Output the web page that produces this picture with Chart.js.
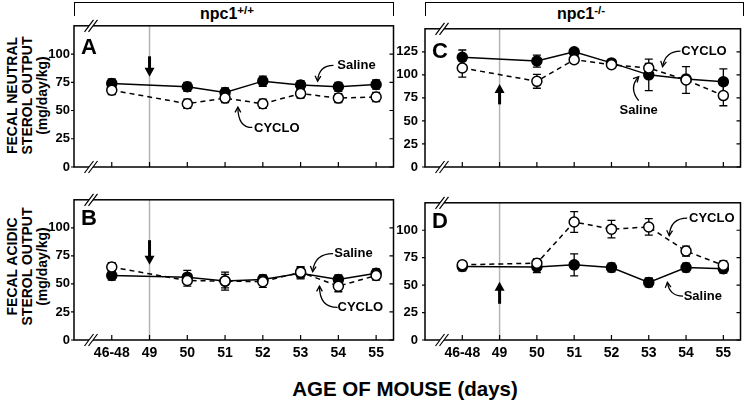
<!DOCTYPE html>
<html>
<head>
<meta charset="utf-8">
<script src="https://cdn.jsdelivr.net/npm/chart.js@4.4.0/dist/chart.umd.min.js"></script>
<style>
  body { margin: 0; background: #fff; width: 747px; height: 403px; overflow: hidden; position: relative;
         font-family: "Liberation Sans", Arial, sans-serif; font-weight: bold; color: #000; }
  canvas { position: absolute; }
  .bracket { position: absolute; box-sizing: border-box; border: 1.5px solid #000; border-bottom: none; height: 14px; top: 2px; }
  .hdr { position: absolute; top: 6px; width: 200px; text-align: center; font-size: 16px; line-height: 16px; }
  .hdr sup { font-size: 11.5px; vertical-align: 5px; line-height: 0; }
  .ytitle { position: absolute; width: 170px; height: 45px; text-align: center; font-size: 14px; line-height: 15px;
            transform: rotate(-90deg); white-space: nowrap; }
  .xtitle { position: absolute; left: 205px; top: 377px; width: 400px; text-align: center; font-size: 20.5px; line-height: 24px; }
</style>
</head>
<body>

<div class="bracket" style="left:74px; width:320px;"></div>
<div class="bracket" style="left:425px; width:319px;"></div>
<div class="hdr" style="left:127px;">npc1<sup>+/+</sup></div>
<div class="hdr" style="left:481px;">npc1<sup>-/-</sup></div>

<div class="ytitle" style="left:-58px; top:73px;">FECAL NEUTRAL<br>STEROL OUTPUT<br>(mg/day/kg)</div>
<div class="ytitle" style="left:-58px; top:244px;">FECAL ACIDIC<br>STEROL OUTPUT<br>(mg/day/kg)</div>

<canvas id="chartA" width="360" height="178" style="left:40px; top:14px;"></canvas>
<canvas id="chartC" width="356" height="178" style="left:391px; top:14px;"></canvas>
<canvas id="chartB" width="360" height="178" style="left:40px; top:188px;"></canvas>
<canvas id="chartD" width="356" height="178" style="left:391px; top:188px;"></canvas>

<div class="xtitle">AGE OF MOUSE (days)</div>

<script>
// giorni (46-48 e' la media del periodo di base, al 49 non c'e' misura)
var dayLabels = ["46-48", "49", "50", "51", "52", "53", "54", "55"];

// neutral sterols, npc1+/+
var neutralSalineWT    = [74, null, 71, 66, 76, 72.5, 71, 73];
var neutralSalineWTErr = [4, null, 4, 4, 4.5, 4, 4, 4];
var neutralCycloWT     = [68, null, 56, 61, 56, 65, 61, 62];
var neutralCycloWTErr  = [4, null, 4, 4, 4, 4, 4, 4];

// neutral sterols, npc1-/-
var neutralSalineKO    = [119, null, 115, 125, 113, 100, 95.5, 92.5];
var neutralSalineKOErr = [8, null, 6.5, 3, 3, 17, 4, 14];
var neutralCycloKO     = [107.5, null, 93, 116.5, 111, 107.5, 94.5, 77.5];
var neutralCycloKOErr  = [10, null, 7.5, 4, 3, 5, 14.5, 11];

// acidic sterols, npc1+/+
var acidicSalineWT    = [57.5, null, 56, 52.5, 54, 59.5, 54, 59.5];
var acidicSalineWTErr = [4, null, 6, 6, 4, 5, 4, 4];
var acidicCycloWT     = [65, null, 53, 52.5, 52, 60.5, 48, 57.5];
var acidicCycloWTErr  = [4, null, 5, 8, 5, 5, 5, 4];

// acidic sterols, npc1-/-
var acidicSalineKO    = [67, null, 66.5, 68.5, 66, 52.5, 66, 65];
var acidicSalineKOErr = [4, null, 5, 10, 4, 4, 4, 4];
var acidicCycloKO     = [68.5, null, 70, 107.5, 101, 103, 81, 68];
var acidicCycloKOErr  = [3, null, 4, 9.5, 8, 7.5, 4.5, 4];

var ticksLow  = [0, 25, 50, 75, 100];
var ticksHigh = [0, 25, 50, 75, 100, 125];

var FONT = "'Liberation Sans', Arial, sans-serif";

//funzione per trasformare i valori in punti {x, y}
function toPoints(values) {
  return values.map(function(v, i) { return { x: i, y: v }; });
}

//segno di interruzione dell'asse "//"
function breakMark(ctx, cx, cy) {
  var dx = 4.5, dy = 6, g = 2;
  ctx.fillStyle = "#fff";
  ctx.beginPath();
  ctx.moveTo(cx - g - dx, cy + dy);
  ctx.lineTo(cx - g + dx, cy - dy);
  ctx.lineTo(cx + g + dx, cy - dy);
  ctx.lineTo(cx + g - dx, cy + dy);
  ctx.closePath();
  ctx.fill();
  ctx.strokeStyle = "#000";
  ctx.lineWidth = 1.2;
  ctx.beginPath();
  ctx.moveTo(cx - g - dx, cy + dy); ctx.lineTo(cx - g + dx, cy - dy);
  ctx.moveTo(cx + g - dx, cy + dy); ctx.lineTo(cx + g + dx, cy - dy);
  ctx.stroke();
}

var decor = {
  id: "decor",
  beforeDatasetsDraw: function(chart, args, opts) {
    var ctx = chart.ctx, a = chart.chartArea, x = chart.scales.x, y = chart.scales.y;
    ctx.save();
    // linea grigia al giorno 49
    var gx = x.getPixelForValue(1);
    ctx.strokeStyle = "#b4b4b4";
    ctx.lineWidth = 1.5;
    ctx.beginPath(); ctx.moveTo(gx, a.top); ctx.lineTo(gx, a.bottom); ctx.stroke();

    // barre di errore
    ctx.strokeStyle = "#000";
    ctx.lineWidth = 1.3;
    chart.data.datasets.forEach(function(ds) {
      ds.data.forEach(function(p, i) {
        var e = ds.errs[i];
        if (p.y == null || e == null) return;
        var xp = x.getPixelForValue(p.x);
        var y1 = y.getPixelForValue(p.y + e), y2 = y.getPixelForValue(p.y - e);
        ctx.beginPath();
        ctx.moveTo(xp, y1); ctx.lineTo(xp, y2);
        ctx.moveTo(xp - 4, y1); ctx.lineTo(xp + 4, y1);
        ctx.moveTo(xp - 4, y2); ctx.lineTo(xp + 4, y2);
        ctx.stroke();
      });
    });
    ctx.restore();
  },
  afterDraw: function(chart, args, opts) {
    var ctx = chart.ctx, a = chart.chartArea, x = chart.scales.x, y = chart.scales.y;
    ctx.save();

    // cornice
    ctx.strokeStyle = "#000";
    ctx.lineWidth = 1.5;
    ctx.strokeRect(a.left, a.top, a.right - a.left, a.bottom - a.top);

    // tacche
    ctx.lineWidth = 1.2;
    ctx.beginPath();
    dayLabels.forEach(function(l, i) {
      var xp = x.getPixelForValue(i);
      ctx.moveTo(xp, a.bottom); ctx.lineTo(xp, a.bottom - 5);
    });
    opts.yTicks.forEach(function(v) {
      var yp = y.getPixelForValue(v);
      ctx.moveTo(a.left - 3, yp); ctx.lineTo(a.left, yp);
      ctx.moveTo(a.right, yp); ctx.lineTo(a.right - 4, yp);
    });
    ctx.stroke();

    // interruzioni
    breakMark(ctx, a.left + 17, a.top);
    breakMark(ctx, a.left + 17, a.bottom);

    // lettera del pannello
    ctx.fillStyle = "#000";
    ctx.font = "bold 22px " + FONT;
    ctx.textAlign = "left";
    ctx.textBaseline = "alphabetic";
    ctx.fillText(opts.letter, a.left + 7, a.top + opts.letterDy);

    // freccia verticale al giorno 49
    var ax = x.getPixelForValue(1);
    var yTail = y.getPixelForValue(opts.arrow[0]);
    var yTip = y.getPixelForValue(opts.arrow[1]);
    var dir = yTip > yTail ? 1 : -1;
    ctx.lineWidth = 3;
    ctx.beginPath();
    ctx.moveTo(ax, yTail); ctx.lineTo(ax, yTip - dir * 7);
    ctx.stroke();
    ctx.beginPath();
    ctx.moveTo(ax - 5, yTip - dir * 9);
    ctx.lineTo(ax + 5, yTip - dir * 9);
    ctx.lineTo(ax, yTip);
    ctx.closePath();
    ctx.fill();

    // etichette con freccia curva
    ctx.font = "bold 13px " + FONT;
    ctx.textAlign = "center";
    ctx.textBaseline = "middle";
    ctx.lineWidth = 1.3;
    opts.notes.forEach(function(n) {
      ctx.fillText(n.text, x.getPixelForValue(n.t[0]), y.getPixelForValue(n.t[1]));
      var sx = x.getPixelForValue(n.s[0]), sy = y.getPixelForValue(n.s[1]);
      var cx = x.getPixelForValue(n.c[0]), cy = y.getPixelForValue(n.c[1]);
      var ex = x.getPixelForValue(n.e[0]), ey = y.getPixelForValue(n.e[1]);
      ctx.beginPath();
      ctx.moveTo(sx, sy);
      ctx.quadraticCurveTo(cx, cy, ex, ey);
      ctx.stroke();
      var ang = Math.atan2(ey - cy, ex - cx);
      ctx.beginPath();
      ctx.moveTo(ex - 6 * Math.cos(ang - 0.5), ey - 6 * Math.sin(ang - 0.5));
      ctx.lineTo(ex, ey);
      ctx.lineTo(ex - 6 * Math.cos(ang + 0.5), ey - 6 * Math.sin(ang + 0.5));
      ctx.stroke();
    });

    ctx.restore();
  }
};

//funzione per disegnare un pannello
function printPanel(id, cfg) {
  var ctx = document.getElementById(id);
  return new Chart(ctx, {
    type: "line",
    data: {
      datasets: [
        {
          label: "CYCLO",
          data: toPoints(cfg.cyclo),
          errs: cfg.cycloErr,
          borderColor: "#000",
          borderWidth: 1.5,
          borderDash: [5, 4],
          pointRadius: 5,
          pointBackgroundColor: "#fff",
          pointBorderColor: "#000",
          pointBorderWidth: 1.5,
          spanGaps: true,
          tension: 0
        },
        {
          label: "Saline",
          data: toPoints(cfg.saline),
          errs: cfg.salineErr,
          borderColor: "#000",
          borderWidth: 1.5,
          pointRadius: 5,
          pointBackgroundColor: "#000",
          pointBorderColor: "#000",
          pointBorderWidth: 1.5,
          spanGaps: true,
          tension: 0
        }
      ]
    },
    options: {
      responsive: false,
      animation: false,
      layout: { padding: { top: 10, right: cfg.padRight, left: 0, bottom: 0 } },
      plugins: {
        legend: { display: false },
        tooltip: { enabled: false },
        decor: cfg.decor
      },
      scales: {
        x: {
          type: "linear",
          min: -1,
          max: 7.46,
          afterBuildTicks: function(s) { s.ticks = dayLabels.map(function(l, i) { return { value: i }; }); },
          afterFit: function(s) { s.height = cfg.xHeight; },
          grid: { display: false, drawTicks: false },
          border: { display: false },
          ticks: {
            display: cfg.showX,
            autoSkip: false,
            maxRotation: 0,
            padding: 5,
            color: "#000",
            font: { family: FONT, size: 14, weight: "bold" },
            callback: function(v) { return dayLabels[v]; }
          }
        },
        y: {
          min: 0,
          max: cfg.yMax,
          afterBuildTicks: function(s) { s.ticks = cfg.decor.yTicks.map(function(v) { return { value: v }; }); },
          afterFit: function(s) { s.width = 34; },
          grid: { display: false, drawTicks: false },
          border: { display: false },
          ticks: {
            padding: cfg.yPad,
            color: "#000",
            font: { family: FONT, size: 13, weight: "bold" }
          }
        }
      }
    },
    plugins: [decor]
  });
}

// ------------------- PANNELLO A -------------------------
printPanel("chartA", {
  saline: neutralSalineWT, salineErr: neutralSalineWTErr,
  cyclo: neutralCycloWT, cycloErr: neutralCycloWTErr,
  yMax: 125, padRight: 6, xHeight: 25, showX: false, yPad: 4,
  decor: {
    yTicks: ticksLow, letter: "A", letterDy: 28, arrow: [98, 80],
    notes: [
      { text: "Saline", t: [6.48, 90], s: [5.87, 90], c: [5.48, 90], e: [5.45, 76] },
      { text: "CYCLO", t: [4.37, 34], s: [3.72, 35], c: [3.34, 35], e: [3.34, 53] }
    ]
  }
});

// ------------------- PANNELLO B -------------------------
printPanel("chartB", {
  saline: acidicSalineWT, salineErr: acidicSalineWTErr,
  cyclo: acidicCycloWT, cycloErr: acidicCycloWTErr,
  yMax: 125, padRight: 6, xHeight: 26, showX: true, yPad: 4,
  decor: {
    yTicks: ticksLow, letter: "B", letterDy: 25, arrow: [89, 67],
    notes: [
      { text: "Saline", t: [6.40, 77], s: [5.86, 77], c: [5.37, 77], e: [5.32, 61] },
      { text: "CYCLO", t: [6.58, 29], s: [5.98, 29], c: [5.5, 29], e: [5.5, 48] }
    ]
  }
});

// ------------------- PANNELLO C -------------------------
printPanel("chartC", {
  saline: neutralSalineKO, salineErr: neutralSalineKOErr,
  cyclo: neutralCycloKO, cycloErr: neutralCycloKOErr,
  yMax: 150, padRight: 3, xHeight: 25, showX: false, yPad: 7,
  decor: {
    yTicks: ticksHigh, letter: "C", letterDy: 29, arrow: [68, 90],
    notes: [
      { text: "CYCLO", t: [6.48, 125.7], s: [5.85, 125.7], c: [5.45, 125.7], e: [5.37, 109] },
      { text: "Saline", t: [4.73, 61.5], s: [4.73, 72], c: [4.45, 86], e: [4.73, 98] }
    ]
  }
});

// ------------------- PANNELLO D -------------------------
printPanel("chartD", {
  saline: acidicSalineKO, salineErr: acidicSalineKOErr,
  cyclo: acidicCycloKO, cycloErr: acidicCycloKOErr,
  yMax: 125, padRight: 3, xHeight: 26, showX: true, yPad: 7,
  decor: {
    yTicks: ticksLow, letter: "D", letterDy: 25, arrow: [33, 53],
    notes: [
      { text: "CYCLO", t: [6.69, 111], s: [6.03, 111], c: [5.58, 111], e: [5.55, 95] },
      { text: "Saline", t: [6.45, 40], s: [5.92, 40], c: [5.55, 40], e: [5.5, 52.6] }
    ]
  }
});
</script>
</body>
</html>
